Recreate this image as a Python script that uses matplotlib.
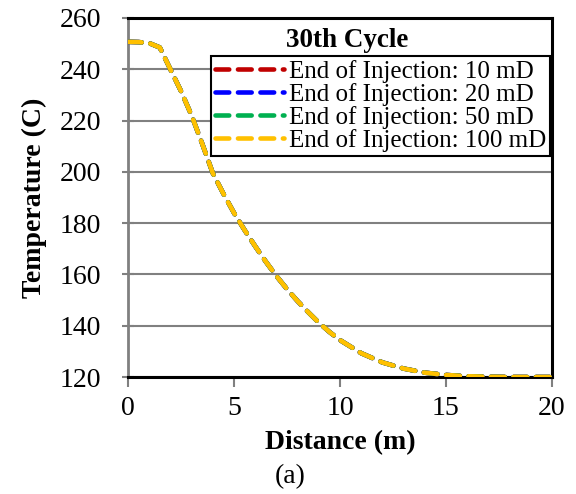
import matplotlib
matplotlib.use("Agg")
import matplotlib.pyplot as plt

distance = [0, 0.5, 1, 1.5, 2, 2.5, 3, 3.5, 4, 4.5, 5, 5.5, 6, 6.5, 7, 7.5, 8, 8.5,
            9, 9.5, 10, 11, 12, 13, 14, 15, 16, 17, 18, 19, 20]
temp_100 = [250.7, 250.6, 250.2, 248.5, 240.0, 231.5, 222.0, 211.0, 199.5, 191.5, 184.0,
            177.3, 171.0, 165.0, 159.4, 154.3, 149.6, 145.3, 141.2, 137.6, 134.4,
            129.3, 125.7, 123.3, 121.7, 120.8, 120.3, 120.1, 120.0, 120.0, 120.0]
temp_10 = list(temp_100)
temp_20 = list(temp_100)
temp_50 = list(temp_100)

labels = ["End of Injection: 10 mD", "End of Injection: 20 mD",
          "End of Injection: 50 mD", "End of Injection: 100 mD"]
colors = ["#C00000", "#0000FF", "#00B050", "#FFC000"]
series = [temp_10, temp_20, temp_50, temp_100]

xticks = [0, 5, 10, 15, 20]
yticks = [120, 140, 160, 180, 200, 220, 240, 260]

plt.rcParams['font.family'] = ['Liberation Serif', 'DejaVu Serif']

fig = plt.figure(figsize=(5.76, 4.94), dpi=100)
ax = fig.add_axes([0.2222, 0.2368, 0.7361, 0.7268])

for y, c, lab in zip(series, colors, labels):
    ax.plot(distance, y, color=c, lw=3.3, linestyle=(0, (3.0, 1.9)),
            dash_capstyle='round', label=lab, zorder=3)

ax.set_xlim(0, 20)
ax.set_ylim(120, 260)
ax.set_xticks(xticks)
ax.set_yticks(yticks)
ax.grid(axis='y', color='#808080', lw=1.5)
ax.set_axisbelow(True)

for s in ['top', 'right', 'bottom']:
    ax.spines[s].set_color('black')
    ax.spines[s].set_linewidth(2.2)
ax.spines['left'].set_color('#808080')
ax.spines['left'].set_linewidth(2.0)

ax.tick_params(axis='both', colors='#808080', width=1.5, length=7, direction='out',
               labelcolor='black', labelsize=20)
ax.tick_params(axis='y', direction='inout', length=9, pad=15)
ax.tick_params(axis='x', pad=7)

ax.set_xlabel("Distance (m)", fontsize=20, fontweight='bold', labelpad=6)
ax.set_ylabel("Temperature (C)", fontsize=20, fontweight='bold', labelpad=9)

ax.text(0.518, 0.938, "30th Cycle", transform=ax.transAxes, ha='center', va='center',
        fontsize=19.5, fontweight='bold')

leg = ax.legend(loc='upper right', bbox_to_anchor=(0.995, 0.893), borderaxespad=0,
                fontsize=18, frameon=True, fancybox=False, framealpha=1,
                edgecolor='black', handlelength=2.75, handletextpad=0.2,
                labelspacing=0.0, borderpad=0.15)
leg.get_frame().set_linewidth(1.5)

fig.text(0.503, 0.035, "(a)", ha='center', va='center', fontsize=20)

fig.savefig("out.png", dpi=100)
